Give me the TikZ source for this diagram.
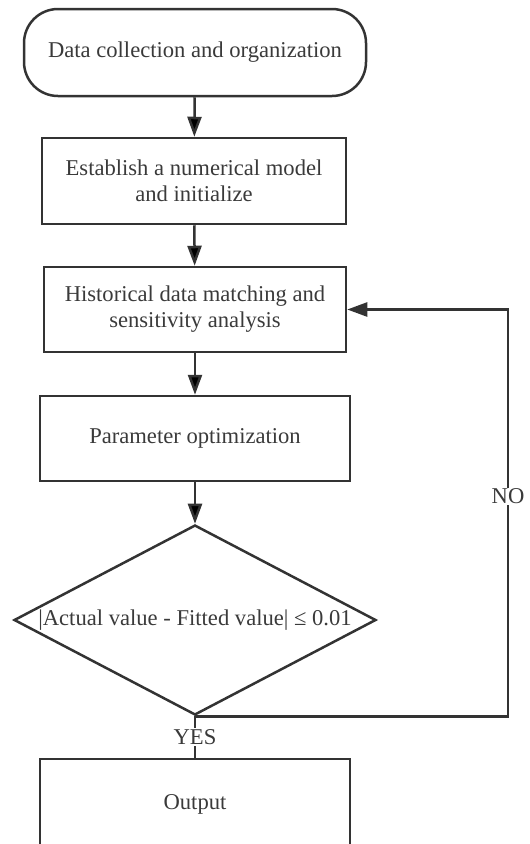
\documentclass[tikz,border=0pt]{standalone}
\usepackage{fontspec}
\setmainfont{Liberation Serif}
\usepackage{tikz}
\usetikzlibrary{shapes.geometric, arrows.meta}

\definecolor{linegray}{HTML}{333333}
\definecolor{textgray}{HTML}{3A3A3A}

\begin{document}
\begin{tikzpicture}[x=1pt, y=-1pt,
	every node/.style={font=\fontsize{22.6}{26}\selectfont, text=textgray},
	box/.style={rectangle, draw=linegray, line width=2.5pt, align=center, inner sep=0pt, minimum width=#1, minimum height=85pt},
	terminal/.style={box=342pt, rounded corners=34pt, minimum height=87pt},
	decision/.style={diamond, draw=linegray, line width=2.5pt, inner sep=0pt, minimum width=362pt, minimum height=190pt},
	arr/.style={-{Triangle[length=20pt, width=14pt]}, draw=linegray, line width=2.5pt},
	plain/.style={draw=linegray, line width=2.5pt}]
	\useasboundingbox (0,0) rectangle (530,844);

	\node[terminal] (start) at (195,52.5) {Data collection and organization};
	\node[box=304pt, minimum height=86pt] (model) at (194,181) {Establish a numerical model\\and initialize};
	\node[box=302pt] (hist) at (195,309.5) {Historical data matching and\\sensitivity analysis};
	\node[box=310pt] (param) at (195,438.5) {Parameter optimization};
	\node[decision, label=center:{|Actual value - Fitted value| ≤ 0.01}] (dec) at (195,620) {};
	\node[box=310pt, minimum height=90pt] (out) at (195,804) {Output};
	\coordinate (loop) at (508,309.5);

	\draw[arr] (start) edge (model);
	\draw[arr] (model) edge (hist);
	\draw[arr] (hist) edge (param);
	\draw[arr] (param) edge (dec);
	\draw[plain] (dec.south) -- node[fill=white, inner sep=1pt] {YES} (out.north);
	\draw[arr] (dec.south) -| node[pos=0.77, fill=white, inner sep=1pt] {NO} (loop) -- (hist.east);
\end{tikzpicture}
\end{document}
